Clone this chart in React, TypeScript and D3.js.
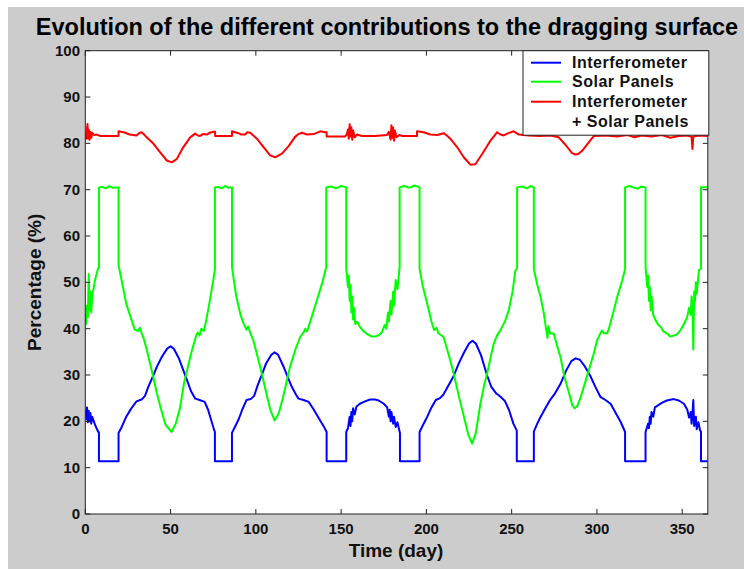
import React from 'react';
import * as d3 from 'd3';

const xTicks = [0, 50, 100, 150, 200, 250, 300, 350];
const yTicks = [0, 10, 20, 30, 40, 50, 60, 70, 80, 90, 100];
const seriesNames = ['Interferometer', 'Solar Panels', 'Interferometer', '+ Solar Panels'];

const interfDays = [0, 0.5, 1, 1.5, 2, 2.5, 3, 3.5, 4, 5, 6, 7.5, 8, 8, 19.5, 19.5, 21, 24, 27, 30, 33, 35, 37, 40, 42, 45, 48, 50, 52, 55, 57.5, 60, 62, 64.5, 67, 70, 72, 74, 75.5, 76, 76, 86, 86, 88, 90, 92, 94.5, 97, 99, 101, 104, 106, 109, 111, 113, 116, 118, 121, 123.5, 125, 128, 131, 134, 137, 140, 141.5, 141.5, 153, 153, 154, 155, 155.5, 156, 156.5, 157, 158, 159, 161, 164, 167, 170, 172, 175, 177, 178, 178.5, 179, 179.5, 180.5, 181, 182, 183, 184.5, 184.5, 196, 196, 198, 200.5, 203, 205.5, 208, 210, 213, 216, 219, 222, 225, 227, 229, 232, 235.5, 238, 241, 243.5, 246, 248.5, 251, 253, 253, 263, 263, 265, 267, 270, 272.5, 275, 278.5, 282, 285, 287.5, 290, 293, 296, 299, 302, 305, 308, 311, 314, 316.5, 316.5, 328.5, 328.5, 330, 330.5, 331, 331.5, 332, 333, 334, 336, 338, 341, 345, 348, 351, 353, 354, 355, 355.5, 356, 356.5, 357, 358, 358.5, 359.5, 360.5, 361, 361, 365];
const interfVals = [22.5, 20.5, 23, 19.8, 22.3, 20, 21.8, 19.5, 21, 20, 19, 17.8, 17.6, 11.4, 11.4, 17.5, 18.5, 21, 22.8, 24.3, 24.7, 25.5, 27.5, 30, 31.8, 34, 35.7, 36.2, 35.6, 33.5, 31, 28.5, 26.5, 24.9, 24.6, 24.2, 22.5, 20, 18.2, 17.7, 11.4, 11.4, 17.5, 19, 20.5, 22.5, 24.6, 24.8, 25.5, 27.7, 30.5, 32.5, 34.3, 34.9, 34.4, 32, 30.2, 27.5, 25.8, 24.9, 24.6, 24.2, 22.5, 20.6, 18.8, 17.7, 11.4, 11.4, 17.7, 18.5, 21, 19, 22, 20, 22.8, 21.5, 23.2, 23.8, 24.3, 24.7, 24.7, 24.5, 23.8, 23, 21, 22.5, 20, 22, 19.5, 21, 18.8, 19.8, 17.5, 11.4, 11.4, 17.7, 19.2, 21, 23, 24.6, 25, 25.8, 27.8, 29.8, 32.5, 34.8, 36.8, 37.4, 36.8, 34.3, 30, 27.5, 26, 25.3, 24.4, 22.4, 19.5, 18, 11.4, 11.4, 17.8, 19.5, 21, 23, 24.6, 25.8, 28, 31, 33, 33.6, 33.3, 31.8, 29.9, 27.5, 25.3, 24.6, 23.8, 21.8, 19.8, 17.7, 11.4, 11.4, 17.7, 19.5, 18.5, 21, 19.5, 22, 21, 23, 23.5, 24, 24.5, 24.8, 24.5, 23.8, 22.5, 20.8, 22, 19.5, 21.5, 24.6, 19, 21, 18.3, 19.8, 18, 17.8, 11.4, 11.4];

const solarDays = [0, 0.5, 1, 1.5, 2, 2.5, 3, 3.5, 4, 5, 6, 7.5, 8, 8, 10, 12, 14, 16, 19.5, 19.5, 21, 24, 27, 29, 31, 32, 33, 34, 36, 38, 40, 42, 44.5, 47, 50.5, 53, 55.5, 58, 60, 62.5, 65, 66, 67, 68, 69.5, 71, 73, 75, 76, 76, 78, 80, 82, 84, 86, 86, 88.5, 91, 93, 94.5, 95.5, 96.5, 98.5, 101, 103.5, 106, 108.5, 111, 113.5, 116, 118, 120, 123, 126, 128, 129, 130, 131, 134, 136.5, 139, 141.3, 141.3, 144, 147, 150, 153, 153, 154, 154.5, 155, 155.5, 156, 156.5, 157, 157.5, 158.3, 159.5, 161, 163, 165, 168, 170, 172, 174, 175.5, 176.5, 177.5, 178, 179, 179.5, 180.5, 181, 182, 183, 184.3, 184.3, 187, 190, 193, 196, 196, 198, 200.5, 203, 204.5, 206, 207, 210, 213, 216, 219, 222, 224.5, 226.8, 229, 231.7, 234, 235.6, 237.5, 239.5, 241.5, 243.5, 244.5, 246, 248.3, 250.5, 252.2, 253.2, 253.2, 256, 259, 261, 263, 263, 265, 267, 269, 270, 271, 271.5, 272.5, 274.7, 276.5, 278.6, 281, 283.5, 285.5, 287, 288.5, 290.5, 293, 295.2, 298, 300.1, 302, 303, 304, 306, 307, 309.9, 312, 314.8, 316.5, 316.5, 319, 322, 324, 326, 328.5, 328.5, 329.5, 330, 330.5, 331, 331.5, 332, 333, 334.4, 336, 337.4, 339, 341.3, 343, 345, 347, 349, 351, 352.9, 354, 355, 355.5, 356, 356.5, 357, 357.5, 358, 358.5, 359.8, 361, 361, 365];
const solarVals = [43, 41, 45, 42.5, 51.8, 44, 48, 43.5, 47, 49, 51, 53, 53.3, 70.5, 70.6, 70.3, 70.8, 70.4, 70.5, 53.7, 51, 45.4, 42, 39.8, 39.5, 40.2, 39, 38.2, 35.5, 32.5, 29.3, 26, 22.5, 19.3, 17.7, 19.5, 22.8, 28.5, 31.5, 35.3, 38.5, 39.2, 38.5, 40, 39.5, 42, 46, 50.4, 52.8, 70.5, 70.6, 70.3, 70.8, 70.4, 70.5, 53.3, 47, 43, 41, 39.8, 40.5, 39.3, 37.5, 34, 30.3, 26.3, 22.5, 20.2, 21.8, 25.3, 28.5, 31.7, 35.3, 38.2, 39.2, 40, 39.4, 40.5, 44, 47, 50, 53.3, 70.5, 70.7, 70.3, 70.8, 70.5, 52.9, 49, 51.5, 46, 49.5, 43.5, 47, 42, 44.5, 41, 41.5, 40.4, 39.5, 38.9, 38.3, 38.3, 38.6, 39.3, 40.8, 40, 43.5, 41.5, 46, 43, 48, 45, 50.5, 48.5, 53.3, 70.5, 70.8, 70.4, 70.9, 70.5, 52.9, 49, 45.4, 41.5, 39.7, 40.2, 39, 38.2, 34.5, 30.3, 25.5, 21, 17.2, 15.2, 17.5, 23.9, 28, 30.3, 33.5, 36.8, 38.6, 39.7, 40.5, 41.5, 44, 48, 52.6, 53, 70.5, 70.7, 70.3, 70.8, 70.5, 52.9, 49.5, 46.8, 43, 40.4, 38, 40.5, 39, 38.9, 36.5, 33.9, 29.5, 26.3, 23.5, 22.8, 23.3, 25.3, 28.3, 31, 34.5, 37.5, 39, 39.6, 39, 39, 40, 44, 47, 50.4, 52.9, 70.5, 70.8, 70.4, 70.2, 70.7, 70.5, 53.3, 49, 51.5, 46, 49, 44, 47, 43, 41.8, 40.8, 40.4, 39.4, 38.9, 38.3, 38.5, 38.8, 39.7, 41, 42.5, 44.5, 43, 47, 45, 35.5, 48, 46, 50, 47.5, 52.6, 53, 70.5, 70.5];

const totalDays = [0, 0.5, 1, 1.3, 1.6, 2, 2.5, 3, 3.5, 4, 5, 6.7, 8.6, 12, 16.4, 19.5, 19.5, 22.5, 26, 30, 31.5, 33, 34.5, 36, 40, 43.8, 47.8, 50.7, 53.6, 57.5, 61.5, 64.4, 66, 67.3, 69, 71.3, 73, 75.1, 76.1, 76.1, 86, 86, 89.8, 91.5, 93.7, 95, 96.7, 98.5, 100.6, 104.5, 108.4, 111.3, 115.3, 119.2, 123, 125, 127, 130, 133.9, 137.8, 140.7, 141.5, 141.5, 152.4, 153.4, 154, 154.5, 155, 155.5, 156, 156.5, 157, 158, 159.3, 162.2, 170, 176.9, 178, 179, 179.5, 180, 180.5, 181, 181.5, 182.5, 184.2, 186, 194.5, 194.5, 198.4, 202.3, 206.3, 210.1, 212, 214, 218, 221.9, 225.8, 228.7, 232.7, 237.6, 241.5, 243.4, 245.4, 248, 251.2, 254.2, 260, 266, 272.8, 277.6, 281.5, 285.4, 287.4, 289, 291.3, 295.2, 298.2, 305, 312, 318, 322, 326, 332, 338, 343, 348, 353, 355.5, 356, 356.5, 360, 365];
const totalVals = [82, 81, 83.2, 84.2, 81, 83, 80.8, 82.5, 81.2, 82.3, 81.8, 81.9, 81.6, 81.6, 81.6, 81.6, 82.6, 82.4, 81.9, 81.7, 82.2, 82.4, 81.9, 81.3, 79.9, 78.1, 76.3, 75.9, 76.6, 79.2, 81.3, 82.1, 81.7, 81.6, 82, 81.9, 82.3, 82.5, 82.5, 81.6, 81.6, 82.6, 82.2, 81.9, 81.9, 82.4, 82.3, 81.7, 81, 79.2, 77.4, 77, 77.8, 79.4, 81.4, 82, 82.3, 81.9, 82, 82.6, 82.4, 82.4, 81.5, 81.5, 82, 83, 81, 84.1, 81.5, 83.5, 80.8, 82.8, 81.3, 81.9, 81.6, 81.6, 81.8, 82.5, 80.8, 83.9, 81.2, 83.4, 80.6, 82.8, 81.3, 81.8, 81.6, 81.6, 82.6, 82.4, 81.9, 81.8, 82.2, 81.7, 81, 79.2, 77, 75.4, 75.5, 77.7, 80.6, 82.4, 81.9, 81.7, 82.2, 82.6, 81.9, 81.7, 81.6, 81.7, 81.3, 79.7, 77.9, 77.6, 77.7, 78.4, 80.2, 81.6, 81.7, 81.5, 81.8, 81.3, 81.7, 81.5, 81.8, 81.2, 81.6, 81.7, 81.4, 78.8, 81.5, 81.7, 81.6];

const colors = ['#0000ff', '#00ff00', '#ff0000'];

export default function App() {
  const W = 744, H = 569;
  const L = 85.3, R = 707.8, T = 50.7, B = 514;
  const x = d3.scaleLinear().domain([0, 365]).range([L, R]);
  const y = d3.scaleLinear().domain([0, 100]).range([B, T]);
  const line = d3.line<[number, number]>().x(d => x(d[0])).y(d => y(d[1]));
  const series = [
    d3.zip(interfDays, interfVals) as [number, number][],
    d3.zip(solarDays, solarVals) as [number, number][],
    d3.zip(totalDays, totalVals) as [number, number][],
  ];
  const axisColor = '#222';
  const font = 'Liberation Sans, Arial, sans-serif';
  const tickLen = 5;
  const legX = 523, legY = T, legW = R - 523 + 1, legH = 84.5;
  const legRows = [62.7, 81.7, 101.7];
  return (
    <svg width={W} height={H} style={{ position: 'absolute', left: 0, top: 0 }} fontFamily={font}>
      <rect x={8} y={7} width={W - 8} height={H - 7} fill="#cccccc" />
      <rect x={L} y={T} width={R - L} height={B - T} fill="#ffffff" />
      <defs>
        <clipPath id="plotClip">
          <rect x={L} y={T} width={R - L} height={B - T} />
        </clipPath>
      </defs>
      <g clipPath="url(#plotClip)">
        {series.map((s, i) => (
          <path key={i} d={line(s) || ''} fill="none" stroke={colors[i]} strokeWidth={2} strokeLinejoin="round" />
        ))}
      </g>
      {xTicks.map(t => (
        <g key={'x' + t}>
          <line x1={x(t)} x2={x(t)} y1={B} y2={B - tickLen} stroke={axisColor} />
          <line x1={x(t)} x2={x(t)} y1={T} y2={T + tickLen} stroke={axisColor} />
          <text x={x(t)} y={534} textAnchor="middle" fontSize={15} fontWeight="bold" fill="#111">{t}</text>
        </g>
      ))}
      {yTicks.map(t => (
        <g key={'y' + t}>
          <line x1={L} x2={L + tickLen} y1={y(t)} y2={y(t)} stroke={axisColor} />
          <line x1={R} x2={R - tickLen} y1={y(t)} y2={y(t)} stroke={axisColor} />
          <text x={80} y={y(t) + 5} textAnchor="end" fontSize={15} fontWeight="bold" fill="#111">{t}</text>
        </g>
      ))}
      <rect x={L} y={T} width={R - L} height={B - T} fill="none" stroke={axisColor} strokeWidth={1} />
      <rect x={legX} y={legY} width={legW} height={legH} fill="#ffffff" stroke={axisColor} strokeWidth={1} />
      {legRows.map((ry, i) => (
        <g key={'l' + i}>
          <line x1={531} x2={561} y1={ry} y2={ry} stroke={colors[i]} strokeWidth={2} />
          <text x={572} y={ry + 5.5} fontSize={16} fontWeight="bold" letterSpacing={0.5} fill="#111">{seriesNames[i]}</text>
        </g>
      ))}
      <text x={572} y={121 + 5.5} fontSize={16} fontWeight="bold" letterSpacing={0.5} fill="#111">{seriesNames[3]}</text>
      <text x={387} y={35} textAnchor="middle" fontSize={23.5} fontWeight="bold" fill="#000">Evolution of the different contributions to the dragging surface</text>
      <text x={396} y={557} textAnchor="middle" fontSize={19} fontWeight="bold" fill="#111">Time (day)</text>
      <text transform={`translate(41, ${(T + B) / 2}) rotate(-90)`} textAnchor="middle" fontSize={19} fontWeight="bold" fill="#111">Percentage (%)</text>
    </svg>
  );
}
